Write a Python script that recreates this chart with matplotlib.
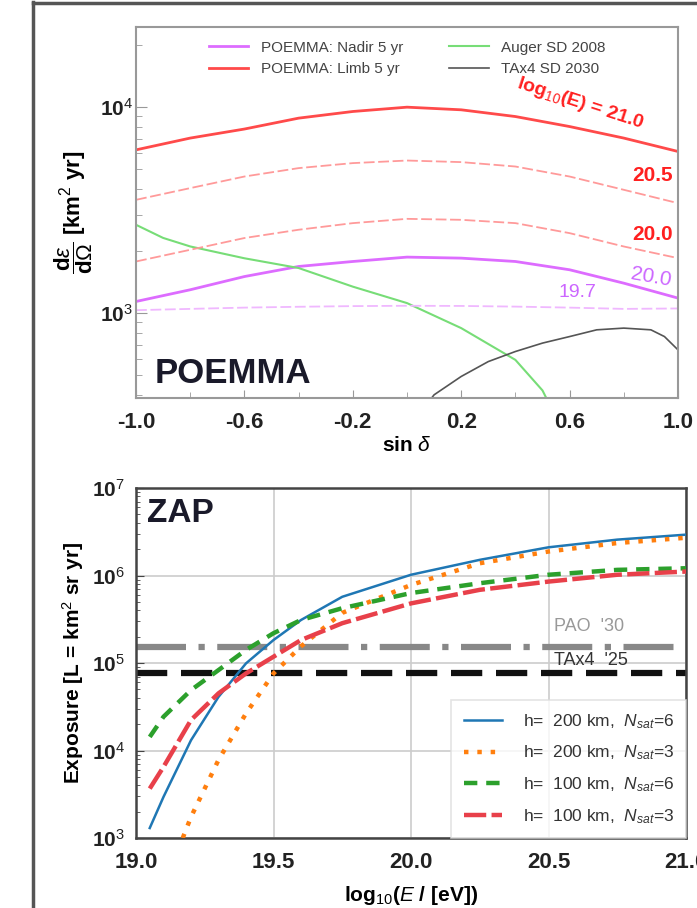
import matplotlib
matplotlib.use("Agg")
import matplotlib.pyplot as plt
from matplotlib.lines import Line2D
import numpy as np

plt.rcParams['font.family'] = ['Liberation Sans', 'DejaVu Sans']
plt.rcParams['mathtext.fontset'] = 'custom'
plt.rcParams['mathtext.rm'] = 'Liberation Sans'
plt.rcParams['mathtext.it'] = 'Liberation Sans:italic'
plt.rcParams['mathtext.bf'] = 'Liberation Sans:bold'

# ---------------- top panel data (POEMMA) ----------------
sin_delta = [-1.0, -0.8, -0.6, -0.4, -0.2, 0.0, 0.2, 0.4, 0.6, 0.8, 1.0]
limb_21_0 = [6180, 7050, 7800, 8810, 9490, 9960, 9670, 8970, 8020, 7050, 6070]
limb_20_5 = [3536, 4030, 4588, 5040, 5330, 5486, 5390, 5131, 4588, 3955, 3407]
limb_20_0 = [1775, 2023, 2307, 2531, 2725, 2859, 2828, 2725, 2437, 2099, 1843]
nadir_20_0 = [1135, 1294, 1500, 1679, 1775, 1864, 1843, 1775, 1618, 1393, 1179]
nadir_19_7 = [1030, 1045, 1060, 1070, 1078, 1082, 1080, 1072, 1060, 1045, 1050]

auger_sin = [-1.0, -0.9, -0.8, -0.6, -0.4, -0.2, 0.0, 0.2, 0.4, 0.5, 0.53]
auger_exp = [2675, 2310, 2100, 1840, 1650, 1340, 1115, 843, 591, 420, 350]

ta_sin = [0.08, 0.1, 0.2, 0.3, 0.4, 0.5, 0.6, 0.7, 0.8, 0.9, 0.95, 1.0]
ta_exp = [370, 400, 491, 580, 649, 713, 767, 827, 843, 827, 767, 661]

top_legend = ["POEMMA: Nadir 5 yr", "POEMMA: Limb 5 yr", "Auger SD 2008", "TAx4 SD 2030"]
top_xticks = [-1.0, -0.6, -0.2, 0.2, 0.6, 1.0]

# ---------------- bottom panel data (ZAP) ----------------
log_e = [19.05, 19.1, 19.2, 19.3, 19.4, 19.5, 19.6, 19.75, 20.0, 20.25, 20.5, 20.75, 21.0]
h200_n6 = [1300, 2950, 13100, 41000, 99000, 183000, 310000, 571000, 1.02e6, 1.51e6, 2.1e6, 2.57e6, 2.93e6]
log_e_orange = [19.17, 19.2, 19.3, 19.4, 19.5, 19.6, 19.75, 20.0, 20.25, 20.5, 20.75, 21.0]
h200_n3 = [1000, 1740, 7800, 26500, 76000, 155000, 374000, 780000, 1.38e6, 1.88e6, 2.35e6, 2.7e6]
h100_n6 = [14300, 24300, 49000, 83000, 141000, 219000, 310000, 423000, 630000, 816000, 1.02e6, 1.16e6, 1.21e6]
h100_n3 = [3670, 6500, 22300, 45000, 76000, 118000, 183000, 285000, 480000, 686000, 852000, 1.02e6, 1.11e6]
pao_30 = 1.53e5
tax4_25 = 7.7e4
zap_labels = [r"h=  200 km,  $N_{sat}$=6", r"h=  200 km,  $N_{sat}$=3",
              r"h=  100 km,  $N_{sat}$=6", r"h=  100 km,  $N_{sat}$=3"]
bottom_xticks = [19.0, 19.5, 20.0, 20.5, 21.0]

W, H = 697, 908
fig = plt.figure(figsize=(W / 100, H / 100), dpi=100)

# frame lines of composite
fig.add_artist(Line2D([33 / W, 33 / W], [0, 1 - 2 / H], color='#555555', lw=2.5))
fig.add_artist(Line2D([33 / W, 1], [1 - 3 / H, 1 - 3 / H], color='#555555', lw=2.5))

# ---------------- top panel ----------------
ax1 = fig.add_axes([136 / W, 1 - 398 / H, (678 - 136) / W, (398 - 27) / H])
ax1.set_yscale('log')
c_red = '#ff4a4a'
c_red_l = '#ff9a9a'
c_vio = '#dd6cff'
c_vio_l = '#f0b8ff'
ax1.plot(sin_delta, nadir_20_0, color=c_vio, lw=2.0, label=top_legend[0])
ax1.plot(sin_delta, limb_21_0, color=c_red, lw=2.0, label=top_legend[1])
ax1.plot(auger_sin, auger_exp, color='#77dd77', lw=1.5, label=top_legend[2])
ax1.plot(ta_sin, ta_exp, color='#555555', lw=1.2, label=top_legend[3])
ax1.plot(sin_delta, limb_20_5, color=c_red_l, lw=1.3, ls=(0, (6, 2)))
ax1.plot(sin_delta, limb_20_0, color=c_red_l, lw=1.3, ls=(0, (6, 2)))
ax1.plot(sin_delta, nadir_19_7, color=c_vio_l, lw=1.3, ls=(0, (6, 2)))
ax1.set_xlim(-1.0, 1.0)
ax1.set_ylim(386, 24400)
ax1.set_xticks(top_xticks)
ax1.set_xticks(np.arange(-1.0, 1.01, 0.2), minor=True)
ax1.set_xticklabels([f"{v:.1f}" for v in top_xticks])
ax1.set_yticks([1e3, 1e4])
ax1.set_yticklabels([r"10$^3$", r"10$^4$"])
for sp in ax1.spines.values():
    sp.set_color('#999999')
    sp.set_linewidth(1.5)
ax1.tick_params(axis='both', which='both', direction='in', colors='#999999',
                labelcolor='#222222')
ax1.tick_params(axis='x', which='major', length=6, labelsize=16, pad=10)
ax1.tick_params(axis='y', which='major', length=8, labelsize=15, pad=2)
ax1.tick_params(which='minor', length=4)
for lab in ax1.get_xticklabels() + ax1.get_yticklabels():
    lab.set_fontweight('bold')
ax1.set_xlabel(r"sin $\delta$", fontsize=15, fontweight='bold', labelpad=2)
ax1.set_ylabel(r"$\dfrac{\mathbf{d}\varepsilon}{\mathbf{d}\Omega}$ [km$^2$ yr]",
               fontsize=16, fontweight='bold', labelpad=4)
ax1.legend(loc='upper center', ncol=2, frameon=False, fontsize=11,
           handlelength=2.6, columnspacing=3.0, labelcolor='#444444',
           bbox_to_anchor=(0.5, 1.0))
ax1.text(0.035, 0.04, "POEMMA", transform=ax1.transAxes, fontsize=25,
         fontweight='bold', color='#1a1a2a')
ax1.text(0.82, 0.795, r"log$_{10}$(E) = 21.0", transform=ax1.transAxes, fontsize=14,
         color='#ff2020', ha='center', va='center', rotation=-18, fontweight='bold')
ax1.text(0.99, 0.60, "20.5", transform=ax1.transAxes, fontsize=15,
         color='#ff2020', ha='right', va='center', fontweight='bold')
ax1.text(0.99, 0.44, "20.0", transform=ax1.transAxes, fontsize=15,
         color='#ff2020', ha='right', va='center', fontweight='bold')
ax1.text(0.99, 0.325, "20.0", transform=ax1.transAxes, fontsize=15,
         color='#cc66ff', ha='right', va='center', rotation=-10)
ax1.text(0.815, 0.285, "19.7", transform=ax1.transAxes, fontsize=14,
         color='#cc66ff', ha='center', va='center')

# ---------------- bottom panel ----------------
ax2 = fig.add_axes([136 / W, 1 - 838 / H, (686 - 136) / W, (838 - 488) / H])
ax2.set_yscale('log')
ax2.grid(True, which='major', color='#cccccc', lw=1.2)
ax2.plot(log_e, h200_n6, color='#1f77b4', lw=1.8, label=zap_labels[0], zorder=3)
ax2.plot(log_e_orange, h200_n3, color='#ff7f0e', lw=3.2, ls=(0, (1, 2)),
         label=zap_labels[1], zorder=3)
ax2.plot(log_e, h100_n6, color='#2ca02c', lw=3.2, ls=(0, (3, 2)),
         label=zap_labels[2], zorder=3)
ax2.plot(log_e, h100_n3, color='#e8404a', lw=3.2, ls=(0, (5, 1.2)),
         label=zap_labels[3], zorder=3)
ax2.axhline(pao_30, color='#888888', lw=4.5, ls=(0, (8, 2, 1, 2)), zorder=2)
ax2.axhline(tax4_25, color='#111111', lw=4.5, ls=(0, (5, 2.2)), zorder=2)
ax2.text(20.52, pao_30 * 1.35, "PAO  '30", color='#999999', fontsize=13, va='bottom')
ax2.text(20.52, tax4_25 * 1.1, "TAx4  '25", color='#333333', fontsize=13, va='bottom')
ax2.set_xlim(19.0, 21.0)
ax2.set_ylim(1e3, 1e7)
ax2.set_xticks(bottom_xticks)
ax2.set_xticklabels([f"{v:.1f}" for v in bottom_xticks])
ax2.set_yticks([1e3, 1e4, 1e5, 1e6, 1e7])
ax2.set_yticklabels([r"10$^3$", r"10$^4$", r"10$^5$", r"10$^6$", r"10$^7$"])
for sp in ax2.spines.values():
    sp.set_color('#444444')
    sp.set_linewidth(1.8)
ax2.tick_params(axis='both', which='both', direction='in', colors='#444444',
                labelcolor='#222222')
ax2.tick_params(axis='x', which='major', length=0, labelsize=16, pad=10)
ax2.tick_params(axis='y', which='major', length=6, labelsize=15, pad=8)
ax2.tick_params(axis='y', which='minor', length=3)
for lab in ax2.get_xticklabels() + ax2.get_yticklabels():
    lab.set_fontweight('bold')
ax2.set_xlabel(r"log$_{10}$($E$ / [eV])", fontsize=15, fontweight='bold', labelpad=8)
ax2.set_ylabel(r"Exposure [$\mathbf{L}$ = km$^2$ sr yr]", fontsize=15,
               fontweight='bold', labelpad=4)
ax2.text(0.02, 0.97, "ZAP", transform=ax2.transAxes, fontsize=24,
         fontweight='bold', color='#1a1a2a', va='top')
leg = ax2.legend(loc='lower right', fontsize=12.5, handlelength=2.2,
                 borderaxespad=0.0, frameon=True, fancybox=False,
                 edgecolor='#dddddd', labelspacing=0.75, borderpad=0.7,
                 handletextpad=1.2)
leg.get_frame().set_linewidth(1.2)
for t in leg.get_texts():
    t.set_color('#333333')

fig.savefig("out.png", dpi=100)
